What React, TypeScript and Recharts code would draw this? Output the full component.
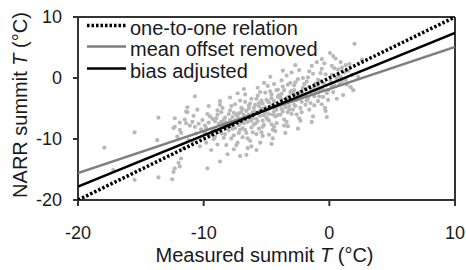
import { ScatterChart, Scatter, XAxis, YAxis, ReferenceLine, Legend } from "recharts";

const FONT = '"Liberation Sans", Arial, Helvetica, sans-serif';

const xTicks = [-20, -10, 0, 10];
const yTicks = [-20, -10, 0, 10];

// fitted lines (end points)
const oneToOne = [
  { x: -20, y: -20 },
  { x: 10, y: 10 },
];
const meanOffsetRemoved = [
  { x: -20, y: -15.6 },
  { x: 10, y: 5.1 },
];
const biasAdjusted = [
  { x: -20, y: -17.8 },
  { x: 10, y: 7.4 },
];

// measured vs NARR summit temperature, estimated from the scatter
const obsPairs: [number, number][] = [
  // sparse left tail
  [-17.9, -11.4], [-17.2, -15.1], [-15.5, -8.9], [-15.5, -16.7], [-13.6, -6.5],
  [-13.6, -16.3], [-12.5, -16.6], [-12.4, -15.4], [-11.9, -14.5], [-12.3, -14.8],
  [-12.0, -13.9], [-11.8, -13.2], [-9.7, -14.8], [-8.7, -13.7], [-13.7, -10.2],
  [-12.1, -9.6], [-12.4, -8.2], [-11.9, -8.5], [-12.3, -6.6], [-11.9, -7.3],
  [-11.4, -5.5], [-11.4, -7.4], [-10.7, -3.0], [-8.7, -4.4], [-11.3, -5.6],
  [-12.3, -8.0],
  // -12 .. -10
  [-11.8, -9.0], [-11.5, -6.8], [-11.2, -10.2], [-11.6, -11.5], [-11.1, -7.8],
  [-11.3, -4.8], [-10.8, -6.2], [-10.6, -9.1], [-10.4, -7.5], [-10.9, -10.3],
  [-10.2, -8.4], [-10.5, -5.2], [-10.3, -11.2], [-10.7, -8.0], [-10.1, -6.9],
  [-10.9, -7.2],
  // -10 .. -9
  [-9.9, -7.8], [-9.7, -5.9], [-9.5, -9.3], [-9.3, -6.7], [-9.8, -10.6],
  [-9.2, -8.5], [-9.6, -4.6], [-9.4, -11.8], [-9.1, -7.1], [-9.9, -9.0],
  [-9.5, -6.3], [-9.2, -10.0], [-9.8, -8.2], [-9.6, -7.3], [-9.3, -8.8],
  [-9.0, -6.6], [-9.1, -9.6], [-8.9, -5.3],
  // -9 .. -8
  [-8.9, -6.0], [-8.8, -8.7], [-8.6, -7.2], [-8.5, -4.9], [-8.4, -9.8],
  [-8.3, -6.5], [-8.2, -11.0], [-8.1, -8.0], [-8.7, -3.8], [-8.9, -10.9],
  [-8.4, -7.6], [-8.6, -5.6], [-8.1, -12.5], [-8.3, -9.2], [-8.8, -7.5],
  [-8.6, -9.1], [-8.4, -6.9], [-8.2, -7.3], [-8.0, -8.6], [-8.0, -5.9],
  // -8 .. -7
  [-7.9, -5.3], [-7.8, -7.9], [-7.7, -6.4], [-7.6, -9.4], [-7.5, -4.3],
  [-7.4, -7.1], [-7.3, -10.6], [-7.2, -5.8], [-7.1, -8.5], [-7.9, -3.2],
  [-7.6, -11.7], [-7.4, -6.0], [-7.2, -7.7], [-7.8, -9.9], [-7.0, -4.9],
  [-7.5, -8.2], [-7.3, -2.5], [-7.1, -12.8], [-7.9, -6.9], [-7.7, -8.3],
  [-7.6, -5.7], [-7.5, -7.0], [-7.3, -6.3], [-7.2, -9.0], [-7.0, -7.3],
  [-7.0, -5.6], [-7.8, -4.6], [-7.1, -3.7], [-7.4, -11.0],
  // -7 .. -6
  [-6.9, -5.1], [-6.8, -7.4], [-6.7, -3.9], [-6.6, -9.0], [-6.5, -6.3],
  [-6.4, -4.5], [-6.3, -10.3], [-6.2, -7.0], [-6.1, -5.6], [-6.9, -8.2],
  [-6.7, -2.7], [-6.5, -11.5], [-6.3, -6.8], [-6.1, -8.9], [-6.8, -1.8],
  [-6.4, -5.0], [-6.2, -3.4], [-6.6, -12.6], [-6.0, -7.6], [-6.9, -9.7],
  [-6.8, -6.1], [-6.7, -8.5], [-6.6, -5.4], [-6.5, -7.2], [-6.4, -6.0],
  [-6.3, -4.2], [-6.2, -8.1], [-6.1, -6.6], [-6.0, -4.9], [-6.5, -9.9],
  [-6.2, -11.2],
  // -6 .. -5
  [-5.9, -4.4], [-5.8, -6.7], [-5.7, -2.9], [-5.6, -8.3], [-5.5, -5.4],
  [-5.4, -3.7], [-5.3, -9.5], [-5.2, -6.1], [-5.1, -4.8], [-5.9, -7.5],
  [-5.7, -1.6], [-5.5, -10.6], [-5.3, -7.0], [-5.1, -2.4], [-5.8, -11.8],
  [-5.6, -5.8], [-5.4, -8.9], [-5.2, -0.8], [-5.0, -6.5], [-5.6, -4.1],
  [-5.9, -5.6], [-5.8, -3.4], [-5.7, -7.1], [-5.6, -4.6], [-5.5, -6.2],
  [-5.4, -5.0], [-5.3, -4.2], [-5.2, -7.7], [-5.1, -5.7], [-5.0, -3.6],
  [-5.5, -2.3], [-5.3, -8.0], [-5.8, -9.2],
  // -5 .. -4
  [-4.9, -3.8], [-4.8, -5.9], [-4.7, -2.2], [-4.6, -7.6], [-4.5, -4.5],
  [-4.4, -1.0], [-4.3, -8.7], [-4.2, -5.2], [-4.1, -3.1], [-4.9, -6.8],
  [-4.7, 0.2], [-4.5, -9.9], [-4.3, -6.3], [-4.1, -1.9], [-4.8, -4.0],
  [-4.6, -10.8], [-4.4, -5.5], [-4.2, -7.4], [-4.0, -2.8], [-4.6, -3.3],
  [-4.5, -8.5], [-4.9, -5.2], [-4.8, -7.0], [-4.7, -4.7], [-4.6, -2.7],
  [-4.5, -6.0], [-4.4, -3.8], [-4.3, -4.9], [-4.2, -2.0], [-4.1, -6.1],
  [-4.0, -4.3], [-4.9, -1.3], [-4.4, -8.0], [-4.8, -9.3],
  // -4 .. -3
  [-3.9, -3.2], [-3.8, -5.1], [-3.7, -1.4], [-3.6, -6.8], [-3.5, -3.9],
  [-3.4, 0.4], [-3.3, -7.9], [-3.2, -4.6], [-3.1, -2.3], [-3.9, -6.0],
  [-3.7, 1.2], [-3.5, -9.0], [-3.3, -5.6], [-3.1, -0.8], [-3.8, -2.6],
  [-3.6, -4.2], [-3.4, -7.2], [-3.2, -3.0], [-3.0, -5.9], [-3.9, -4.4],
  [-3.8, -3.5], [-3.7, -5.5], [-3.6, -2.0], [-3.5, -4.8], [-3.4, -3.3],
  [-3.3, -1.1], [-3.2, -5.2], [-3.1, -3.7], [-3.0, -2.1], [-3.8, -0.4],
  [-3.0, 0.9], [-3.6, -7.8],
  // -3 .. -2
  [-2.9, -2.5], [-2.8, -4.4], [-2.7, -0.7], [-2.6, -6.0], [-2.5, -3.2],
  [-2.4, 1.3], [-2.3, -7.0], [-2.2, -3.9], [-2.1, -1.6], [-2.9, -5.2],
  [-2.7, 2.1], [-2.5, -8.3], [-2.3, -4.9], [-2.1, 0.0], [-2.8, -2.0],
  [-2.6, -3.6], [-2.9, -3.6], [-2.8, -1.2], [-2.7, -4.6], [-2.6, -2.7],
  [-2.5, -0.2], [-2.4, -3.4], [-2.3, -2.3], [-2.2, -5.6], [-2.1, -3.0],
  [-2.0, -1.0], [-2.4, -6.6],
  // -2 .. -1
  [-1.9, -1.8], [-1.8, -3.7], [-1.7, 0.1], [-1.6, -5.2], [-1.5, -2.4],
  [-1.4, 2.0], [-1.3, -6.3], [-1.2, -3.0], [-1.1, -0.9], [-1.9, -4.4],
  [-1.6, 1.1], [-1.4, -7.2], [-1.2, -1.5], [-1.9, -2.7], [-1.8, -0.6],
  [-1.7, -3.3], [-1.6, -1.4], [-1.5, -4.1], [-1.4, -2.0], [-1.3, 0.7],
  [-1.2, -4.5], [-1.1, -2.2], [-1.0, -1.1], [-1.0, 2.6],
  // -1 .. 0
  [-0.9, -1.2], [-0.8, -3.0], [-0.7, 0.8], [-0.6, -4.3], [-0.5, -1.9],
  [-0.4, 2.4], [-0.3, -5.4], [-0.2, -2.5], [-0.9, -0.3], [-0.6, 1.5],
  [-0.1, -3.6], [-0.2, -6.4], [-0.35, -4.9], [-0.9, -3.8], [-0.8, -2.0],
  [-0.7, -0.5], [-0.5, -3.1], [-0.4, -1.0], [-0.3, 0.6], [-0.1, -2.0],
  [-0.6, 3.1],
  // 0 .. 3
  [0.1, -0.6], [0.3, -2.3], [0.4, 1.6], [0.6, -3.4], [0.7, 0.4],
  [0.9, 2.6], [0.2, -1.4], [0.5, 3.2], [0.05, 4.1], [0.3, 3.6],
  [0.8, -1.0], [1.0, 1.7], [1.3, -0.3], [1.5, 1.2], [1.7, -1.5],
  [0.2, 2.0], [0.6, -0.1], [1.8, 0.5], [1.2, 0.9], [1.4, -1.1],
  [1.6, 2.3], [1.9, -2.0], [2.0, 5.6], [2.3, 0.2], [2.6, 3.0],
  [1.1, -2.8], [0.2, 0.5], [0.4, -1.2], [0.7, 1.4], [1.0, -0.5],
  [0.9, 0.2], [1.3, 2.1],
];

const observations = obsPairs.map(([x, y]) => ({ x, y }));

const legendItems = [
  { label: "one-to-one relation", color: "#000", width: 3.5, dash: "2.5 2" },
  { label: "mean offset removed", color: "#7f7f7f", width: 2.5, dash: undefined },
  { label: "bias adjusted", color: "#000", width: 2.5, dash: undefined },
];

const LegendBox = () => (
  <div style={{ fontFamily: FONT, fontSize: 20, color: "#1a1a1a" }}>
    {legendItems.map((item) => (
      <div key={item.label} style={{ display: "flex", height: 21.5, lineHeight: "21.5px" }}>
        <svg width={39} height={21.5} style={{ marginRight: 4 }}>
          <line
            x1={0}
            x2={39}
            y1={7.5}
            y2={7.5}
            stroke={item.color}
            strokeWidth={item.width}
            strokeDasharray={item.dash}
          />
        </svg>
        <span style={{ whiteSpace: "nowrap" }}>{item.label}</span>
      </div>
    ))}
  </div>
);

const XTitle = ({ viewBox }: any) => (
  <text
    x={viewBox.x + viewBox.width / 2 - 2}
    y={262}
    textAnchor="middle"
    fontSize={20}
    fontFamily={FONT}
    fill="#1a1a1a"
  >
    Measured summit <tspan fontStyle="italic">T</tspan> (°C)
  </text>
);

const YTitle = () => (
  <text
    x={27}
    y={105}
    transform="rotate(-90, 27, 105)"
    textAnchor="middle"
    fontSize={20}
    fontFamily={FONT}
    fill="#1a1a1a"
  >
    NARR summit <tspan fontStyle="italic">T</tspan> (°C)
  </text>
);

const noShape = () => <g />;

const App = () => {
  const tickStyle = { fill: "#1a1a1a", fontSize: 18, fontFamily: FONT };
  return (
    <div style={{ position: "absolute", left: 0, top: 0, background: "#fff" }}>
      <ScatterChart
        width={466}
        height={270}
        margin={{ top: 17, right: 11, bottom: 0, left: 0 }}
      >
        <XAxis
          type="number"
          dataKey="x"
          domain={[-20, 10]}
          ticks={xTicks}
          allowDataOverflow
          height={70}
          tickSize={6}
          tickMargin={20}
          tick={tickStyle}
          axisLine={{ stroke: "#333", strokeWidth: 2 }}
          tickLine={{ stroke: "#333", strokeWidth: 2 }}
          label={<XTitle />}
        />
        <YAxis
          type="number"
          dataKey="y"
          domain={[-20, 10]}
          ticks={yTicks}
          allowDataOverflow
          width={78}
          tickSize={5}
          tickMargin={11}
          tick={tickStyle}
          axisLine={{ stroke: "#333", strokeWidth: 2 }}
          tickLine={{ stroke: "#333", strokeWidth: 2 }}
          label={<YTitle />}
        />
        <ReferenceLine y={10} stroke="#333" strokeWidth={2} />
        <ReferenceLine x={10} stroke="#333" strokeWidth={2} />
        <Scatter
          data={observations}
          isAnimationActive={false}
          shape={(p: any) => <circle cx={p.cx} cy={p.cy} r={2.1} fill="#b8b8b8" />}
        />
        <Scatter
          data={meanOffsetRemoved}
          isAnimationActive={false}
          shape={noShape}
          line={{ stroke: "#7f7f7f", strokeWidth: 2.5 }}
        />
        <Scatter
          data={biasAdjusted}
          isAnimationActive={false}
          shape={noShape}
          line={{ stroke: "#000", strokeWidth: 2.5 }}
        />
        <Scatter
          data={oneToOne}
          isAnimationActive={false}
          shape={noShape}
          line={{ stroke: "#000", strokeWidth: 3.5, strokeDasharray: "2.5 2" }}
        />
        <Legend
          layout="horizontal"
          verticalAlign="middle"
          align="center"
          wrapperStyle={{ top: 17.5, left: 87, width: "auto", height: "auto" }}
          content={() => <LegendBox />}
        />
      </ScatterChart>
    </div>
  );
};

export default App;
